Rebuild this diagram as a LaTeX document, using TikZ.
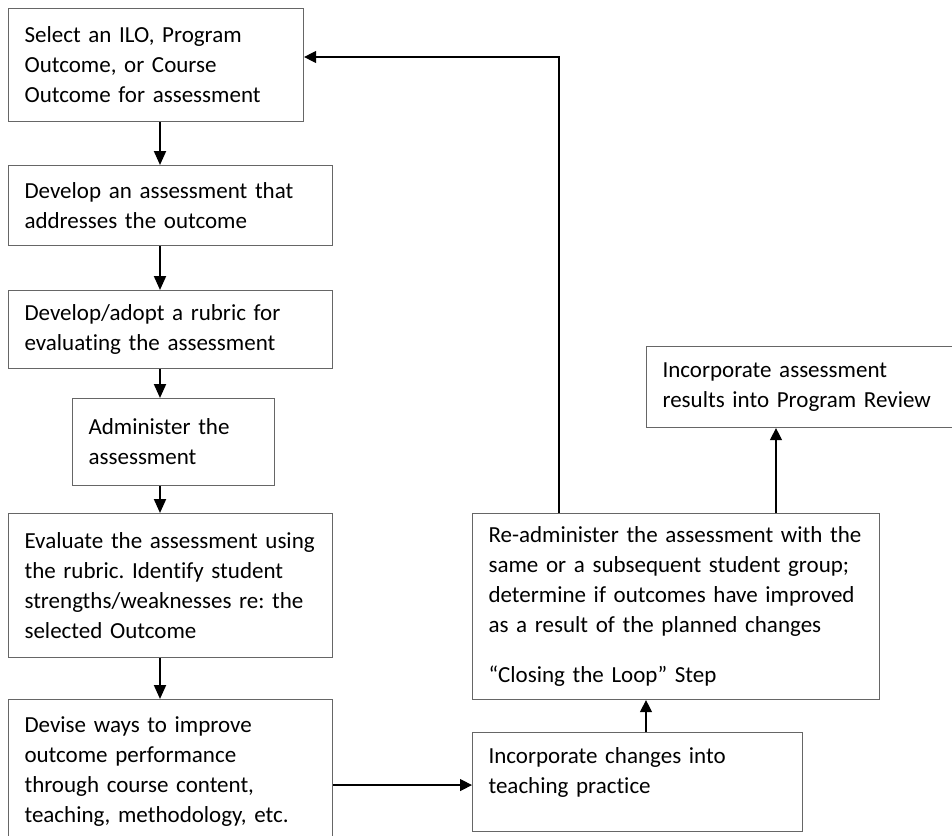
\documentclass[tikz,border=0pt]{standalone}
\usepackage{fontspec}
\setmainfont{Carlito}[Ligatures=NoCommon]
\usetikzlibrary{arrows.meta}
\frenchspacing
\begin{document}
\begin{tikzpicture}[x=1pt, y=-1pt,
        stepbox/.style={draw=black!60, line width=1.1pt, anchor=north west, align=left,
            inner xsep=16pt, inner ysep=0pt, font=\fontsize{23}{30}\selectfont},
        flow/.style={-{Triangle[length=14pt,width=12pt]}, line width=2pt},
        back/.style={-{Triangle[length=12pt,width=12pt]}, line width=1.2pt}]
                \useasboundingbox (0,0) rectangle (952,835);
                \clip (0,0) rectangle (952,835);
                % Nodes
                \node[stepbox, minimum height=113pt, text width=263pt] at (8,8)    (select)   {Select an ILO, Program\\Outcome, or Course\\Outcome for assessment};
                \node[stepbox, minimum height=80pt,  text width=292pt] at (8,165)  (develop)  {Develop an assessment that\\addresses the outcome};
                \node[stepbox, minimum height=78pt,  text width=292pt] at (8,290)  (rubric)   {Develop/adopt a rubric for\\evaluating the assessment};
                \node[stepbox, minimum height=87pt,  text width=170pt] at (72,398) (admin)    {Administer the\\assessment};
                \node[stepbox, minimum height=144pt, text width=292pt] at (8,513)  (evaluate) {Evaluate the assessment using\\the rubric. Identify student\\strengths/weaknesses re: the\\selected Outcome};
                \node[stepbox, minimum height=144pt, text width=292pt] at (8,699)  (devise)   {Devise ways to improve\\outcome performance\\through course content,\\teaching, methodology, etc.};
                \node[stepbox, minimum height=99pt,  text width=298pt] at (472,732) (teach)   {Incorporate changes into\\teaching practice\rule[-24pt]{0pt}{24pt}};
                \node[stepbox, minimum height=186pt, text width=375pt] at (472,513) (readmin)  {Re-administer the assessment with the\\same or a subsequent student group;\\determine if outcomes have improved\\as a result of the planned changes\\[20pt]“Closing the Loop” Step};
                \node[stepbox, minimum height=81pt,  text width=288pt] at (646,346) (review)   {Incorporate assessment\\results into Program Review};

                % Helper coordinates
                \coordinate (spine) at (160,0);
                \coordinate (upl)   at (646,0);
                \coordinate (upr)   at (776,0);
                \coordinate (loop)  at (559,57);

                \draw[flow]  (select.south -| spine)   -- (develop.north -| spine);
                \draw[flow]  (develop.south -| spine)  -- (rubric.north -| spine);
                \draw[flow]  (rubric.south -| spine)   -- (admin.north -| spine);
                \draw[flow]  (admin.south -| spine)    -- (evaluate.north -| spine);
                \draw[flow]  (evaluate.south -| spine) -- (devise.north -| spine);

                \draw[back]  ([yshift=-3pt]teach.west -| devise.east) -- ([yshift=-3pt]teach.west);
                \draw[back]  (teach.north -| upl)      -- (readmin.south -| upl);
                \draw[back]  (readmin.north -| upr)    -- (review.south -| upr);

                \draw[back]  (readmin.north -| loop) -- (loop) -- (loop -| select.east);
            \end{tikzpicture}
\end{document}
